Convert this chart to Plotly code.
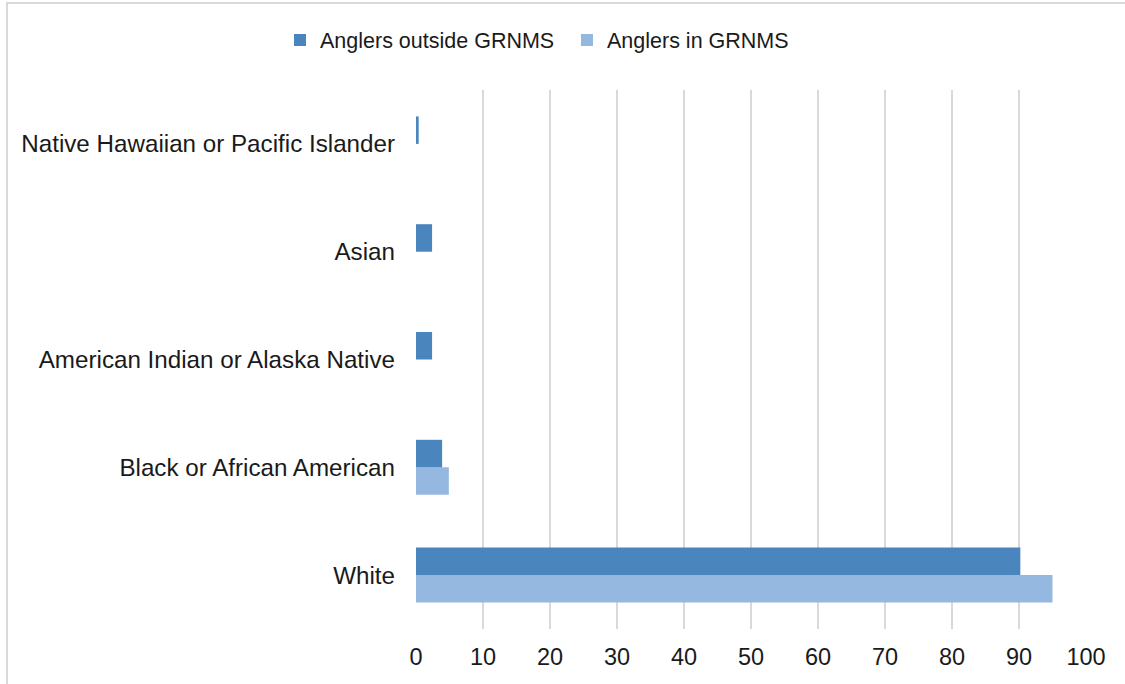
import plotly.graph_objects as go

# Race of anglers (percent), bottom-to-top category order
categories = [
    "White",
    "Black or African American",
    "American Indian or Alaska Native",
    "Asian",
    "Native Hawaiian or Pacific Islander",
]
outside_grnms = [90.2, 3.9, 2.4, 2.4, 0.4]
in_grnms = [95.0, 4.9, 0, 0, 0]
x_ticks = [0, 10, 20, 30, 40, 50, 60, 70, 80, 90, 100]

DARK = "#4a86bd"
LIGHT = "#95b8e0"
TEXT = "#1a1a1a"
FONT = "Liberation Sans, Arial, sans-serif"

fig = go.Figure()
# first trace sits in the lower half of each category group
fig.add_trace(go.Bar(
    y=categories, x=in_grnms, orientation="h",
    name="Anglers in GRNMS", marker=dict(color=LIGHT, line=dict(width=0)),
    legendrank=2,
))
fig.add_trace(go.Bar(
    y=categories, x=outside_grnms, orientation="h",
    name="Anglers outside GRNMS", marker=dict(color=DARK, line=dict(width=0)),
    legendrank=1,
))

fig.update_layout(
    width=1125, height=684,
    margin=dict(l=416, r=39, t=90, b=55),
    paper_bgcolor="white", plot_bgcolor="white",
    barmode="group", bargap=0.49, bargroupgap=0,
    font=dict(family=FONT, color=TEXT, size=21),
    showlegend=True,
    legend=dict(
        orientation="h", x=(280 - 416) / 670, xanchor="left",
        y=1 + (90 - 40) / 539, yanchor="middle",
        font=dict(size=21.5, color=TEXT), itemwidth=30,
        entrywidth=242, entrywidthmode="pixels",
        traceorder="normal", bgcolor="rgba(0,0,0,0)",
    ),
    xaxis=dict(
        range=[0, 100], tickvals=x_ticks, showgrid=True,
        gridcolor="#d9d9d9", gridwidth=1.5, zeroline=False,
        showline=False, ticks="", tickfont=dict(size=23.5, color=TEXT),
        ticklabelstandoff=11, fixedrange=True,
    ),
    yaxis=dict(
        categoryorder="array", categoryarray=categories,
        showgrid=False, zeroline=False, showline=False, ticks="",
        tickfont=dict(size=24.2, color=TEXT), ticklabelstandoff=20,
        fixedrange=True,
    ),
    shapes=[
        # chart frame
        dict(type="rect", xref="paper", yref="paper",
             x0=(7 - 416) / 670, x1=1.2, y0=-0.3, y1=1 + (90 - 3) / 539,
             line=dict(color="#d9d9d9", width=2), layer="below"),
    ],
)

fig.write_html("out.html")
